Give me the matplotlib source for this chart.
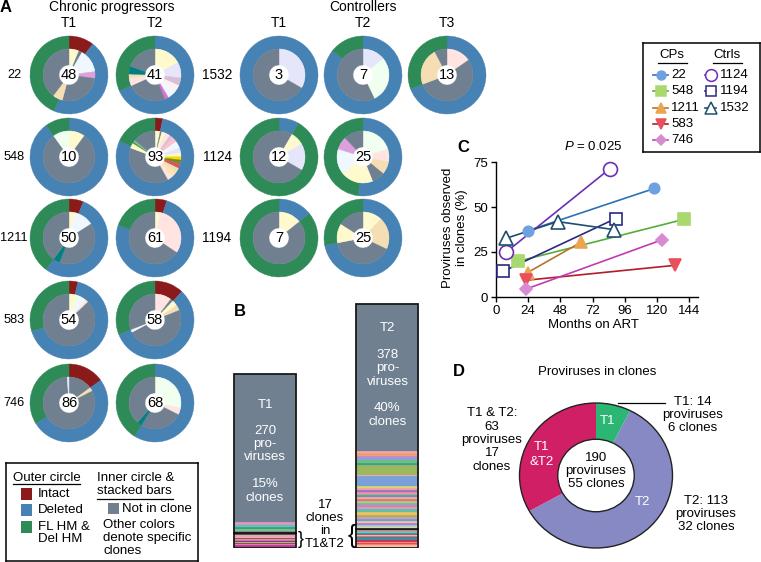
import matplotlib
matplotlib.use('Agg')
import matplotlib.pyplot as plt
from matplotlib.patches import Rectangle, Circle

plt.rcParams['font.family'] = ['Liberation Sans', 'DejaVu Sans']
plt.rcParams['mathtext.fontset'] = 'custom'
plt.rcParams['mathtext.it'] = 'Liberation Sans:italic'
plt.rcParams['mathtext.rm'] = 'Liberation Sans'

# ------------------------------------------------------------------ data
outer_colors = ['#8b1a1a', '#4682b4', '#2e8b57']       # Intact, Deleted, FL HM & Del HM
GREY = '#708090'                                        # not in clone
clone_colors = {
    'GR': GREY, 'LC': '#fffacd', 'LV': '#e6e6fa', 'AB': '#f0f8ff', 'PL': '#dda0dd',
    'TH': '#d8bfd8', 'LB': '#fff0f5', 'OR': '#da70d6', 'MR': '#ffe4e1', 'WH': '#f5deb3',
    'HD': '#f0fff0', 'TL': '#008080', 'PK': '#ffc0cb', 'GD': '#ffd700', 'OL': '#6b8e23',
    'IR': '#cd5c5c', 'MC': '#ffe4b5', 'AQ': '#66cdaa',
}

# chronic progressors
cp_ids = ['22', '548', '1211', '583', '746']
cp_n_T1 = [48, 10, 50, 54, 86]
cp_n_T2 = [41, 93, 61, 58, 68]
cp_outer_T1 = [[5, 22, 21], [0, 9, 1], [3, 27, 20], [2, 36, 16], [13, 44, 29]]
cp_outer_T2 = [[0, 28, 13], [3, 73, 17], [3, 46, 12], [7, 33, 18], [0, 40, 28]]
cp_inner_T1 = [
    [('LC', 3), ('GR', 1), ('AB', 7), ('PL', 2), ('GR', 13), ('WH', 3), ('GR', 19)],
    [('LC', 1), ('GR', 8), ('HD', 1)],
    [('LC', 2), ('AB', 6), ('GR', 20), ('TL', 2), ('GR', 20)],
    [('LC', 3), ('AB', 3), ('MR', 1), ('GR', 47)],
    [('GR', 13), ('WH', 2), ('GR', 70), ('LV', 1)],
]
cp_inner_T2 = [
    [('LC', 7), ('LV', 4), ('TH', 2), ('LB', 2), ('AB', 2), ('OR', 1), ('GR', 10),
     ('MR', 2), ('WH', 1), ('TL', 2), ('GR', 8)],
    [('LC', 3), ('GR', 1), ('LC', 2), ('MR', 3), ('TH', 2), ('PK', 3), ('AB', 4), ('LV', 3),
     ('LC', 2), ('GD', 2), ('OL', 2), ('IR', 3), ('WH', 3), ('MC', 3), ('MR', 3), ('GR', 36),
     ('LC', 3), ('OL', 1), ('AQ', 1), ('GR', 13)],
    [('LC', 2), ('MR', 19), ('GR', 40)],
    [('MR', 6), ('GR', 1), ('LC', 2), ('WH', 2), ('GR', 28), ('AB', 1), ('GR', 18)],
    [('LC', 1), ('HD', 18), ('MR', 3), ('GR', 18), ('TL', 2), ('GR', 26)],
]

# controllers
ctrl_ids = ['1532', '1124', '1194']
ctrl_n = [[3, 7, 13], [12, 25], [7, 25]]
ctrl_outer = [[[0, 3, 0], [0, 6, 1], [0, 9, 4]],
              [[0, 1, 11], [0, 13, 12]],
              [[0, 1, 6], [0, 18, 7]]]
ctrl_inner = [
    [[('LV', 1), ('GR', 2)],
     [('LV', 1), ('HD', 2), ('GR', 4)],
     [('MR', 2), ('GR', 7), ('WH', 3), ('GR', 1)]],
    [[('GR', 1), ('LC', 1), ('LV', 2), ('GR', 8)],
     [('HD', 5), ('MR', 2), ('WH', 2), ('GR', 2), ('LC', 5), ('AB', 4), ('PL', 2), ('GR', 3)]],
    [[('LC', 1), ('GR', 6)],
     [('LC', 3), ('WH', 5), ('GR', 10), ('LC', 3), ('GR', 4)]],
]

# panel B stacked bars
# shared clones (T1&T2), listed bottom -> top
b_T1_shared_sizes = [1, 2, 1, 2, 1, 1, 2, 1, 1, 2, 1, 1, 2, 1, 1, 2, 1]
b_T1_shared_colors = ['#e377c2', '#9b3fa0', '#d6307f', '#e78ac3', '#7b3294', '#c2378a',
                      '#b8d34a', '#6a3d9a', '#e85a9c', '#a6d854', '#c51b7d', '#8e3e9e',
                      '#f4a6c8', '#9467bd', '#d4e157', '#5e3c99', '#e7298a']
b_T1_only_sizes = [3, 3, 3, 3, 2, 3]
b_T1_only_colors = ['#6c7fc8', '#8fc36b', '#2ca58d', '#66c2a5', '#b0a0d8', '#e794c8']
b_T1_grey = 230
b_T2_shared_sizes = [2, 2, 2, 2, 2, 2, 2, 2, 1, 1, 2, 2, 2, 2, 2, 1, 1]
b_T2_shared_colors = ['#ffffff', '#f6c18b', '#f08aa0', '#e8384f', '#f4a582', '#d6304a',
                      '#1f9a9a', '#3a8fc0', '#e63950', '#2ab0a8', '#f9d48a', '#c0448a',
                      '#20a0a0', '#6cc0c0', '#f08080', '#7b3294', '#e0c060']
# T2-only clones, listed top -> bottom
b_T2_only_sizes_top = [4, 4, 4, 3, 4, 4, 15, 2, 15, 3, 3, 3, 3, 2, 3, 3, 3, 3, 4, 3, 3,
                       4, 5, 3, 3, 3, 3, 3, 3, 3]
b_T2_only_colors_top = ['#f4a6b4', '#f0a070', '#c08ad0', '#7fa6de', '#6cc07a', '#3aa090',
                        '#9cb85f', '#f4a6c8', '#7b9fd8', '#d8d870', '#f0a0b0', '#a070c0',
                        '#f090b0', '#8cc070', '#6a8fd0', '#f4b080', '#e07090', '#b0d060',
                        '#70b0e0', '#f08080', '#c8a0e0', '#60c0a0', '#f0c060', '#9cb85f',
                        '#e890b8', '#5aa8d8', '#f4c0a0', '#b080c8', '#a0d0f0', '#e8e070']
b_T2_grey = 227

# panel C
c_ids = ['22', '548', '1211', '583', '746', '1124', '1194', '1532']
c_months = [[23.6, 118.1], [16.2, 140.5], [23.6, 63.4], [22.4, 133.6], [22.4, 123.6],
            [7.5, 85.0], [5.5, 89.3], [7.5, 46.0, 88.3]]
c_pct = [[36.8, 60.3], [19.8, 43.2], [13.6, 30.4], [9.3, 17.6], [4.4, 31.7],
         [24.9, 71.3], [14.3, 43.6], [32.6, 41.9, 37.4]]
c_markers = ['o', 's', '^', 'v', 'D', 'o', 's', '^']
c_ms = [7.5, 8.5, 9, 9, 6.5, 10, 8, 9.5]
c_face = ['#6fa0e0', '#a9d86e', '#e9a54f', '#e9505b', '#d98bd1', 'white', 'white', 'white']
c_edge = ['#6fa0e0', '#a9d86e', '#e9a54f', '#e9505b', '#d98bd1', '#6b2fb3', '#2a2a80', '#1f4f6e']
c_line = ['#2f6fb8', '#55ad3d', '#b8732b', '#b01e2e', '#c23bb3', '#6b2fb3', '#2a2a80', '#1f4f6e']
c_xticks = [0, 24, 48, 72, 96, 120, 144]
c_yticks = [0, 25, 50, 75]

# panel D
d_labels = ['T1', 'T2', 'T1 & T2']
d_values = [14, 113, 63]
d_colors = ['#2bb673', '#8789c5', '#d11f66']

# ------------------------------------------------------------------ figure
W, H = 761, 562
fig = plt.figure(figsize=(W / 100, H / 100), dpi=100)


def T(x, y, s, **kw):
    kw.setdefault('ha', 'center')
    kw.setdefault('va', 'center')
    kw.setdefault('fontsize', 9.5)
    return fig.text(x / W, 1 - y / H, s, **kw)


def AX(x0, y0, x1, y1):
    return fig.add_axes([x0 / W, 1 - y1 / H, (x1 - x0) / W, (y1 - y0) / H])


def lines(x, y0, step, items, **kw):
    for i, s in enumerate(items):
        T(x, y0 + i * step, s, **kw)


R = 39.0
PAD = 2.0


def donut(cx, cy, outer, inner, n):
    ax = AX(cx - R - PAD, cy - R - PAD, cx + R + PAD, cy + R + PAD)
    ov = [v for v in outer if v > 0]
    oc = [c for v, c in zip(outer, outer_colors) if v > 0]
    w1, _ = ax.pie(ov, colors=oc, radius=1, startangle=90, counterclock=False,
                   wedgeprops=dict(width=13 / R, linewidth=0))
    iv = [v for k, v in inner]
    ic = [clone_colors[k] for k, v in inner]
    w2, _ = ax.pie(iv, colors=ic, radius=26 / R, startangle=90, counterclock=False,
                   wedgeprops=dict(width=16 / R, linewidth=0))
    for w in list(w1) + list(w2):
        w.set_edgecolor(w.get_facecolor())
        w.set_linewidth(0.3)
    lim = (R + PAD) / R
    ax.set_xlim(-lim, lim)
    ax.set_ylim(-lim, lim)
    ax.set_aspect('equal')
    ax.axis('off')
    ax.text(0, 0, str(n), ha='center', va='center', fontsize=10.5)


# ---- panel A
T(6, 8, 'A', fontsize=12, fontweight='bold')
T(112, 7, 'Chronic progressors', fontsize=10)
T(363, 7, 'Controllers', fontsize=10)
cp_x = [69, 155]
rows_y = [75, 157, 238, 320, 403]
for x, lab in zip(cp_x, ['T1', 'T2']):
    T(x, 23, lab, fontsize=10)
ctrl_x = [279, 363, 447]
for x, lab in zip(ctrl_x, ['T1', 'T2', 'T3']):
    T(x, 23, lab, fontsize=10)

for i, pid in enumerate(cp_ids):
    T(14.2, rows_y[i], pid, fontsize=9.2)
    donut(cp_x[0], rows_y[i], cp_outer_T1[i], cp_inner_T1[i], cp_n_T1[i])
    donut(cp_x[1], rows_y[i], cp_outer_T2[i], cp_inner_T2[i], cp_n_T2[i])

for i, pid in enumerate(ctrl_ids):
    T(217, rows_y[i], pid, fontsize=9.8)
    for j in range(len(ctrl_n[i])):
        donut(ctrl_x[j], rows_y[i], ctrl_outer[i][j], ctrl_inner[i][j], ctrl_n[i][j])

# legend box A
axl = AX(6, 463, 198, 561)
axl.set_xlim(6, 198)
axl.set_ylim(561, 463)
axl.set_xticks([])
axl.set_yticks([])
for s in axl.spines.values():
    s.set_linewidth(1.1)
kwl = dict(ha='left', va='center', fontsize=9.5)
axl.text(13, 478, 'Outer circle', **kwl)
axl.plot([13, 80], [484.5, 484.5], color='black', lw=0.9)
for (yy, c, lab) in [(494, outer_colors[0], 'Intact'), (510, outer_colors[1], 'Deleted'),
                     (527, outer_colors[2], 'FL HM &')]:
    axl.add_patch(Rectangle((21, yy - 6), 11, 12, color=c, lw=0))
    axl.text(38, yy, lab, **kwl)
axl.text(38, 539.5, 'Del HM', **kwl)
axl.text(97, 478, 'Inner circle &', **kwl)
axl.text(97, 491, 'stacked bars', **kwl)
axl.plot([97, 173], [499, 499], color='black', lw=0.9)
axl.add_patch(Rectangle((108, 503), 11, 11, color=GREY, lw=0))
axl.text(122, 509, 'Not in clone', **kwl)
axl.text(103, 525, 'Other colors', **kwl)
axl.text(103, 538, 'denote specific', **kwl)
axl.text(103, 551, 'clones', **kwl)

# ---- panel B
T(240, 312, 'B', fontsize=12, fontweight='bold')
axb = AX(220, 296, 430, 548)
axb.set_ylim(0, (548 - 296) / 0.6455)
axb.set_xlim(-0.367, 1.347)
axb.axis('off')
BW = 0.506


def stack(x, sizes, colors, grey, shared_n):
    bottoms = []
    b = 0
    for s in sizes:
        bottoms.append(b)
        b += s
    axb.bar([x] * len(sizes), sizes, bottom=bottoms, width=BW, color=colors,
            edgecolor=colors, linewidth=0.2)
    axb.bar(x, grey, bottom=b, width=BW, color=GREY, edgecolor=GREY, linewidth=0.2)
    axb.bar(x, b + grey, width=BW, fill=False, edgecolor='#1a1a1a', linewidth=1.3)
    axb.plot([x - BW / 2, x + BW / 2], [shared_n, shared_n], color='black', lw=1.1)


stack(0, b_T1_shared_sizes + b_T1_only_sizes, b_T1_shared_colors + b_T1_only_colors,
      b_T1_grey, sum(b_T1_shared_sizes))
stack(1, b_T2_shared_sizes + b_T2_only_sizes_top[::-1],
      b_T2_shared_colors + b_T2_only_colors_top[::-1],
      b_T2_grey, sum(b_T2_shared_sizes))

wk = dict(color='white', fontsize=9.5)
T(265, 405, 'T1', **wk)
lines(265, 431, 13, ['270', 'pro-', 'viruses'], **wk)
lines(265, 484, 14, ['15%', 'clones'], **wk)
T(387.5, 328, 'T2', **wk)
lines(387.5, 355, 13.5, ['378', 'pro-', 'viruses'], **wk)
lines(387.5, 408, 14, ['40%', 'clones'], **wk)
lines(325, 505, 13, ['17', 'clones', 'in', 'T1&T2'])
T(301, 539, '}', fontsize=13)
T(352, 536, '{', fontsize=18)

# ---- panel C
T(463, 147, 'C', fontsize=12, fontweight='bold')
axc = AX(496, 162, 698, 297)
axc.set_xlim(0, 150.7)
axc.set_ylim(0, 75)
for i in range(len(c_ids)):
    axc.plot(c_months[i], c_pct[i], color=c_line[i], lw=1.2, zorder=2, clip_on=False)
    axc.plot(c_months[i], c_pct[i], ls='none', marker=c_markers[i], ms=c_ms[i],
             mfc=c_face[i], mec=c_edge[i], mew=1.2, zorder=3, clip_on=False)
axc.spines['top'].set_visible(False)
axc.spines['right'].set_visible(False)
for s in ['left', 'bottom']:
    axc.spines[s].set_linewidth(1.0)
axc.set_xticks(c_xticks)
axc.set_yticks(c_yticks)
axc.tick_params(labelsize=9.5, length=3.5, width=1.0, pad=2)
T(455, 228, 'Proviruses observed\nin clones (%)', rotation=90, fontsize=9.5, linespacing=1.15)
T(593, 325, 'Months on ART', fontsize=9.5)
T(593, 147, r'$P$ = 0.025', fontsize=9.5)

# legend C
axcl = AX(643, 43, 760, 152)
axcl.set_xlim(643, 760)
axcl.set_ylim(152, 43)
axcl.set_xticks([])
axcl.set_yticks([])
for s in axcl.spines.values():
    s.set_linewidth(1.1)
axcl.text(672, 55, 'CPs', ha='center', va='center', fontsize=9.5)
axcl.plot([658, 687], [63, 63], color='black', lw=0.9)
axcl.text(727, 55, 'Ctrls', ha='center', va='center', fontsize=9.5)
axcl.plot([713, 742], [63, 63], color='black', lw=0.9)
leg_rows = [75, 91, 108, 124, 140]
for i in range(len(c_ids)):
    if i < 5:
        yy, xm, x0, x1, xt = leg_rows[i], 661, 653, 668, 671
    else:
        yy, xm, x0, x1, xt = leg_rows[i - 5], 711, 705, 716, 720
    axcl.plot([x0, x1], [yy, yy], color=c_line[i], lw=1.2)
    axcl.plot([xm], [yy], ls='none', marker=c_markers[i], ms=c_ms[i] * 0.85,
              mfc=c_face[i], mec=c_edge[i], mew=1.1)
    axcl.text(xt, yy, c_ids[i], ha='left', va='center', fontsize=9.5)

# ---- panel D
T(459, 372, 'D', fontsize=12, fontweight='bold')
T(597, 372, 'Proviruses in clones', fontsize=9.5)
axd = AX(517, 400, 675, 551)
axd.pie(d_values, colors=d_colors, startangle=90, counterclock=False, radius=1,
        wedgeprops=dict(width=0.5, linewidth=0))
axd.set_aspect('auto')
axd.set_xlim(-79 / 76.5, 79 / 76.5)
axd.set_ylim(-75.5 / 72.5, 75.5 / 72.5)
axd.axis('off')
axd.add_patch(Circle((0, 0), 1, fill=False, lw=1.0, edgecolor='#222222'))
axd.add_patch(Circle((0, 0), 0.5, fill=False, lw=1.0, edgecolor='#222222'))
T(607, 421, 'T1', color='white')
lines(542, 447, 15, ['T1', '&T2'], color='white')
T(642, 502, 'T2', color='white')
lines(596, 458, 13, ['190', 'proviruses', '55 clones'])
lines(693, 402, 13, ['T1: 14', 'proviruses', '6 clones'])
fig.add_artist(plt.Line2D([618 / W, 665 / W], [1 - 403 / H, 1 - 403 / H], color='black', lw=0.9))
lines(492, 413, 13.5, ['T1 & T2:', '63', 'proviruses', '17', 'clones'])
lines(706, 501, 13, ['T2: 113', 'proviruses', '32 clones'])

fig.savefig('out.png', dpi=100)
